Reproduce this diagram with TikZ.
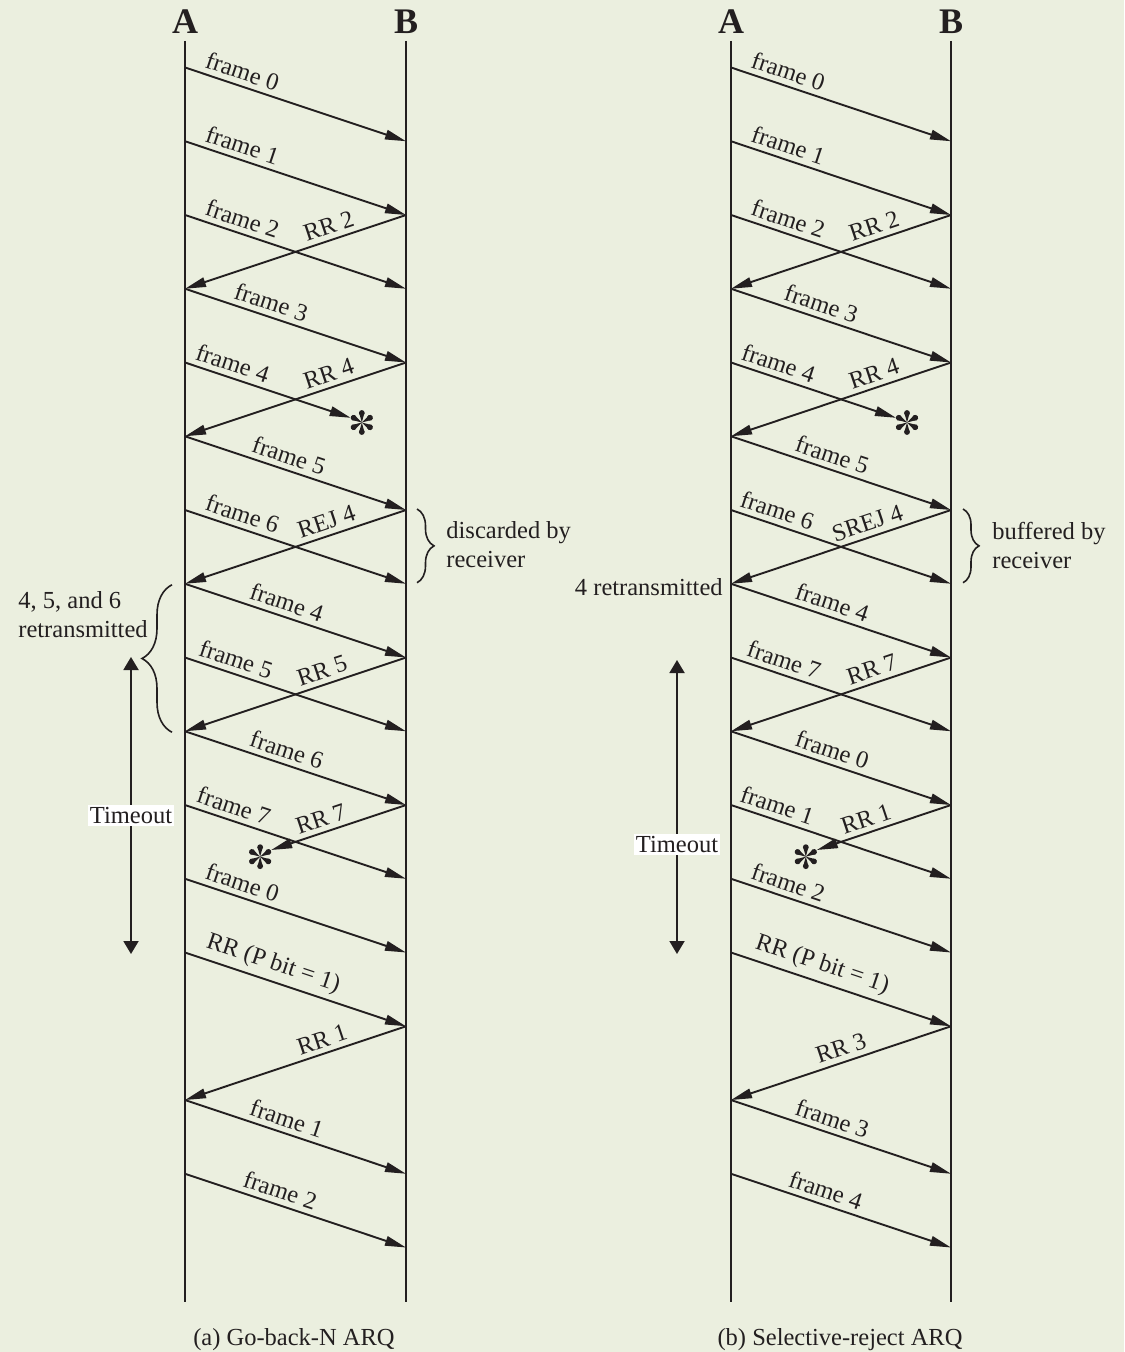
\documentclass[tikz,border=0pt]{standalone}
\usepackage{fontspec}
\setmainfont{Liberation Serif}
\usetikzlibrary{arrows.meta,positioning,calc,decorations.pathreplacing}
\definecolor{ink}{RGB}{35,31,32}
\definecolor{paper}{RGB}{235,239,223}

\begin{document}
\begin{tikzpicture}[x=0.5pt, y=-0.5pt,
    every node/.style={text=ink, font=\fontsize{12.25}{14.5}\selectfont},
    life/.style={draw=ink, line width=1pt},
    msg/.style={draw=ink, line width=0.95pt, -{Triangle[length=10.5pt, width=4.8pt]}},
    lbl/.style={sloped, above, inner sep=2.5pt},
    hdr/.style={font=\fontsize{18}{20}\selectfont\bfseries},
    tmo/.style={fill=white, inner sep=1pt},
    tarr/.style={draw=ink, line width=0.95pt, -{Triangle[length=6.5pt, width=7.5pt]}},
    brc/.style={draw=ink, line width=0.8pt, decorate},
    note/.style={align=left, inner sep=0pt},
    ast/.pic={\foreach \a in {30,90,...,330}{
        \fill[ink, rotate=\a] (0,0) -- (9.5,-2.6) -- (9.5,2.6) -- cycle;
        \fill[ink, rotate=\a] (9.5,0) circle (2.9);}}
  ]
  \path[use as bounding box, fill=paper] (0,0) rectangle (1124,1352);

  \foreach \k in {0,...,16}{
    \coordinate (ga\k) at (185,67.5+73.75*\k);
    \coordinate (gb\k) at (406,67.5+73.75*\k);
    \coordinate (sa\k) at (731,67.5+73.75*\k);
    \coordinate (sb\k) at (951,67.5+73.75*\k);
  }

  % (a) Go-back-N
  \node[hdr] (gA) at (185,22) {A};
  \node[hdr] (gB) at (406,22) {B};
  \coordinate (gAend) at (185,1302);
  \coordinate (gBend) at (406,1302);
  \draw[life] (gA.south) -- (gAend);
  \draw[life] (gB.south) -- (gBend);

  \coordinate (gl4) at ($(ga4)!.75!(gb5)$);
  \coordinate (gx4) at ($(ga4)!.8!(gb5)+(0,1)$);
  \coordinate (gl7) at ($(gb10)!.61!(ga11)$);
  \coordinate (gx7) at ($(gb10)!.66!(ga11)+(0,3)$);

  \draw[msg] (ga0) -- node[lbl, pos=.24] {frame 0} (gb1);
  \draw[msg] (ga1) -- node[lbl, pos=.24] {frame 1} (gb2);
  \draw[msg] (ga2) -- node[lbl, pos=.24] {frame 2} (gb3);
  \draw[msg] (gb2) -- node[lbl, pos=.33] {RR 2} (ga3);
  \draw[msg] (ga3) -- node[lbl, pos=.37] {frame 3} (gb4);
  \draw[msg] (ga4) -- node[lbl, pos=.26] {frame 4} (gl4);
  \pic at (gx4) {ast};
  \draw[msg] (gb4) -- node[lbl, pos=.33] {RR 4} (ga5);
  \draw[msg] (ga5) -- node[lbl, pos=.45] {frame 5} (gb6);
  \draw[msg] (ga6) -- node[lbl, pos=.24] {frame 6} (gb7);
  \draw[msg] (gb6) -- node[lbl, pos=.34] {REJ 4} (ga7);
  \draw[msg] (ga7) -- node[lbl, pos=.44] {frame 4} (gb8);
  \draw[msg] (ga8) -- node[lbl, pos=.21] {frame 5} (gb9);
  \draw[msg] (gb8) -- node[lbl, pos=.36] {RR 5} (ga9);
  \draw[msg] (ga9) -- node[lbl, pos=.44] {frame 6} (gb10);
  \draw[msg] (ga10) -- node[lbl, pos=.2] {frame 7} (gb11);
  \draw[msg] (gb10) -- node[lbl, pos=.6] {RR 7} (gl7);
  \pic at (gx7) {ast};
  \draw[msg] (ga11) -- node[lbl, pos=.24] {frame 0} (gb12);
  \draw[msg] (ga12) -- node[lbl, pos=.375] {RR (P bit = 1)} (gb13);
  \draw[msg] (gb13) -- node[lbl, pos=.36] {RR 1} (ga14);
  \draw[msg] (ga14) -- node[lbl, pos=.44] {frame 1} (gb15);
  \draw[msg] (ga15) -- node[lbl, pos=.41] {frame 2} (gb16);

  \coordinate (gbr1) at ($(gb6)+(11,-1)$);
  \coordinate (gbr2) at ($(gb7)+(11,-1)$);
  \draw[brc, decoration={brace, amplitude=8.5pt}] (gbr1) -- (gbr2);
  \node[note, anchor=west] (gdisc) at (446,545) {discarded by\\receiver};
  \coordinate (gbr3) at ($(ga9)+(-13,1)$);
  \coordinate (gbr4) at ($(ga7)+(-13,1)$);
  \draw[brc, decoration={brace, amplitude=15pt}] (gbr3) -- (gbr4);
  \node[note, anchor=west] (gretx) at (18,615) {4, 5, and 6\\retransmitted};

  \node[tmo] (gto) at (131,815.5) {Timeout};
  \coordinate (gtoup) at (131,657);
  \coordinate (gtodn) at (131,954);
  \draw[tarr] (gto.north) -- (gtoup);
  \draw[tarr] (gto.south) -- (gtodn);

  \node[anchor=base] (gcap) at (294,1345) {(a) Go-back-N ARQ};

  % (b) Selective-reject
  \node[hdr] (sA) at (731,22) {A};
  \node[hdr] (sB) at (951,22) {B};
  \coordinate (sAend) at (731,1302);
  \coordinate (sBend) at (951,1302);
  \draw[life] (sA.south) -- (sAend);
  \draw[life] (sB.south) -- (sBend);

  \coordinate (sl4) at ($(sa4)!.75!(sb5)$);
  \coordinate (sx4) at ($(sa4)!.8!(sb5)+(0,1)$);
  \coordinate (sl10) at ($(sb10)!.61!(sa11)$);
  \coordinate (sx10) at ($(sb10)!.66!(sa11)+(0,3)$);

  \draw[msg] (sa0) -- node[lbl, pos=.24] {frame 0} (sb1);
  \draw[msg] (sa1) -- node[lbl, pos=.24] {frame 1} (sb2);
  \draw[msg] (sa2) -- node[lbl, pos=.24] {frame 2} (sb3);
  \draw[msg] (sb2) -- node[lbl, pos=.33] {RR 2} (sa3);
  \draw[msg] (sa3) -- node[lbl, pos=.39] {frame 3} (sb4);
  \draw[msg] (sa4) -- node[lbl, pos=.26] {frame 4} (sl4);
  \pic at (sx4) {ast};
  \draw[msg] (sb4) -- node[lbl, pos=.33] {RR 4} (sa5);
  \draw[msg] (sa5) -- node[lbl, pos=.44] {frame 5} (sb6);
  \draw[msg] (sa6) -- node[lbl, pos=.19] {frame 6} (sb7);
  \draw[msg] (sb6) -- node[lbl, pos=.36] {SREJ 4} (sa7);
  \draw[msg] (sa7) -- node[lbl, pos=.44] {frame 4} (sb8);
  \draw[msg] (sa8) -- node[lbl, pos=.22] {frame 7} (sb9);
  \draw[msg] (sb8) -- node[lbl, pos=.34] {RR 7} (sa9);
  \draw[msg] (sa9) -- node[lbl, pos=.44] {frame 0} (sb10);
  \draw[msg] (sa10) -- node[lbl, pos=.19] {frame 1} (sb11);
  \draw[msg] (sb10) -- node[lbl, pos=.6] {RR 1} (sl10);
  \pic at (sx10) {ast};
  \draw[msg] (sa11) -- node[lbl, pos=.24] {frame 2} (sb12);
  \draw[msg] (sa12) -- node[lbl, pos=.39] {RR (P bit = 1)} (sb13);
  \draw[msg] (sb13) -- node[lbl, pos=.48] {RR 3} (sa14);
  \draw[msg] (sa14) -- node[lbl, pos=.44] {frame 3} (sb15);
  \draw[msg] (sa15) -- node[lbl, pos=.41] {frame 4} (sb16);

  \coordinate (sbr1) at ($(sb6)+(12,-1)$);
  \coordinate (sbr2) at ($(sb7)+(12,-1)$);
  \draw[brc, decoration={brace, amplitude=8pt}] (sbr1) -- (sbr2);
  \node[note, anchor=west] (sbuf) at (992,545) {buffered by\\receiver};
  \node[anchor=base east, inner sep=0pt] (sretx) at (723,595) {4 retransmitted};

  \node[tmo] (sto) at (677,844.5) {Timeout};
  \coordinate (stoup) at (677,660);
  \coordinate (stodn) at (677,954);
  \draw[tarr] (sto.north) -- (stoup);
  \draw[tarr] (sto.south) -- (stodn);

  \node[anchor=base] (scap) at (840,1345) {(b) Selective-reject ARQ};
\end{tikzpicture}
\end{document}
